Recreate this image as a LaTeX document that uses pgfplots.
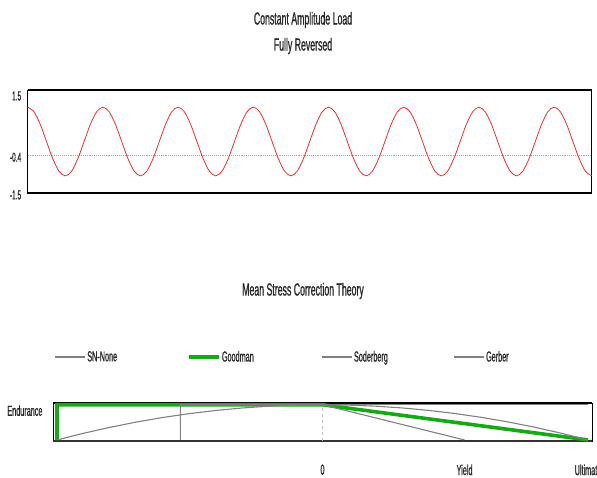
\documentclass[border=0pt]{standalone}
\usepackage{fontspec}
\setmainfont[FakeStretch=0.5, FakeBold=0.8]{Liberation Sans}
\usepackage{pgfplots}
\pgfplotsset{compat=1.18}

\definecolor{sinered}{RGB}{240,45,45}
\definecolor{goodgreen}{RGB}{20,170,20}
\definecolor{sgray}{RGB}{128,128,128}
\definecolor{txt}{RGB}{40,40,40}

\newcommand{\lbl}{\fontsize{14.5}{14.5}\selectfont}
\newcommand{\ttl}{\fontsize{17.5}{17.5}\selectfont}

\begin{document}
\begin{tikzpicture}
% top: load history
\begin{axis}[
  scale only axis, width=564pt, height=103pt,
  at={(27.7pt,-193pt)}, anchor=south west,
  xmin=0, xmax=2700, ymin=-1.5, ymax=1.5,
  xtick=\empty,
  ytick={-1.5,-0.4}, yticklabels={-1.5,-0.4},
  extra y ticks={1.5}, extra y tick labels={1.5},
  extra y tick style={yticklabel style={yshift=-4pt}},
  major tick length=0pt,
  axis line style={black, line width=0.8pt},
  yticklabel style={font=\fontsize{13}{13}\selectfont, text=txt, xshift=-3pt, yshift=-2pt},
  clip=false,
]
\draw[black, line width=1.6pt] (rel axis cs:0,1) -- (rel axis cs:1,1);
\draw[black, line width=1.6pt] (rel axis cs:0,0) -- (rel axis cs:1,0);
\addplot[gray!70, densely dotted, line width=0.9pt] coordinates {(0,-0.4) (2700,-0.4)};
\addplot[sinered, line width=0.8pt, smooth] coordinates {
(0,1)(30,0.866)(60,0.5)(90,0)(120,-0.5)(150,-0.866)(180,-1)(210,-0.866)(240,-0.5)(270,0)(300,0.5)(330,0.866)
(360,1)(390,0.866)(420,0.5)(450,0)(480,-0.5)(510,-0.866)(540,-1)(570,-0.866)(600,-0.5)(630,0)(660,0.5)(690,0.866)
(720,1)(750,0.866)(780,0.5)(810,0)(840,-0.5)(870,-0.866)(900,-1)(930,-0.866)(960,-0.5)(990,0)(1020,0.5)(1050,0.866)
(1080,1)(1110,0.866)(1140,0.5)(1170,0)(1200,-0.5)(1230,-0.866)(1260,-1)(1290,-0.866)(1320,-0.5)(1350,0)(1380,0.5)(1410,0.866)
(1440,1)(1470,0.866)(1500,0.5)(1530,0)(1560,-0.5)(1590,-0.866)(1620,-1)(1650,-0.866)(1680,-0.5)(1710,0)(1740,0.5)(1770,0.866)
(1800,1)(1830,0.866)(1860,0.5)(1890,0)(1920,-0.5)(1950,-0.866)(1980,-1)(2010,-0.866)(2040,-0.5)(2070,0)(2100,0.5)(2130,0.866)
(2160,1)(2190,0.866)(2220,0.5)(2250,0)(2280,-0.5)(2310,-0.866)(2340,-1)(2370,-0.866)(2400,-0.5)(2430,0)(2460,0.5)(2490,0.866)
(2520,1)(2550,0.866)(2580,0.5)(2610,0)(2640,-0.5)(2670,-0.866)(2700,-1)};
\end{axis}

% bottom: mean stress correction
\begin{axis}[
  scale only axis, width=539pt, height=38pt,
  at={(53pt,-441pt)}, anchor=south west,
  xmin=-1.015, xmax=1.015, ymin=-0.03, ymax=1.05,
  xtick={0,0.535,1}, xticklabels={0,Yield,Ultimate},
  ytick={1}, yticklabels={Endurance},
  major tick length=0pt,
  axis line style={black, line width=0.8pt},
  xticklabel style={font=\lbl, text=txt, yshift=-20pt},
  yticklabel style={font=\lbl, text=txt, anchor=north east, xshift=-7pt, yshift=3pt},
  legend columns=4,
  legend style={draw=none, fill=none, inner sep=0pt, at={(0,1)}, anchor=west,
    xshift=1.5pt, yshift=46pt, font=\lbl, text=txt,
    nodes={inner sep=1.5pt}},
  legend image code/.code={\draw[#1] (0pt,0pt) -- (30pt,0pt);},
  clip=false,
]
\draw[black, line width=1.6pt] (rel axis cs:0,1) -- (rel axis cs:1,1);
\draw[black!80, line width=1.4pt] (rel axis cs:0,0) -- (rel axis cs:1,0);
\draw[gray!50, dashed, line width=0.6pt] (axis cs:0,-0.03) -- (axis cs:0,1.05);
\addplot[sgray, line width=1.1pt] coordinates {(-1,1) (1,1)};
\addlegendentry{\makebox[98pt][l]{SN-None}}
\addplot[goodgreen, line width=3.6pt] coordinates {(-1,0) (-1,1) (0,1) (1,0)};
\addlegendentry{\makebox[98pt][l]{Goodman}}
\addplot[sgray, line width=1.1pt] coordinates {(-0.535,0) (-0.535,1) (0,1) (0.535,0)};
\addlegendentry{\makebox[98pt][l]{Soderberg}}
\addplot[sgray, line width=1.1pt] coordinates {(-1,0) (-0.9,0.19) (-0.8,0.36) (-0.7,0.51) (-0.6,0.64) (-0.5,0.75) (-0.4,0.84) (-0.3,0.91) (-0.2,0.96) (-0.1,0.99) (0,1) (0.1,0.99) (0.2,0.96) (0.3,0.91) (0.4,0.84) (0.5,0.75) (0.6,0.64) (0.7,0.51) (0.8,0.36) (0.9,0.19) (1,0)};
\addlegendentry{\makebox[98pt][l]{Gerber}}
\end{axis}

\node[text=txt, font=\ttl] at (303pt,-20pt) {Constant Amplitude Load};
\node[text=txt, font=\ttl] at (303pt,-46pt) {Fully Reversed};
\node[text=txt, font=\ttl] at (303pt,-291pt) {Mean Stress Correction Theory};

\pgfresetboundingbox
\path[use as bounding box] (0pt,-477pt) rectangle (597pt,0pt);
\end{tikzpicture}
\end{document}
